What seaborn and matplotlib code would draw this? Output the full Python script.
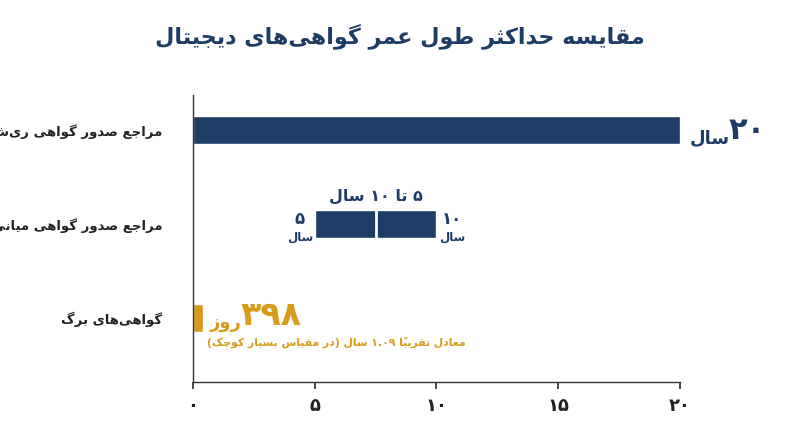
import matplotlib
matplotlib.use("Agg")
import matplotlib.pyplot as plt
import seaborn as sns
import pandas as pd

# ---- minimal Arabic/Persian shaping + visual ordering ----
FORMS = {
 'ا':('\uFE8D','\uFE8E',None,None),'ب':('\uFE8F','\uFE90','\uFE91','\uFE92'),
 'ت':('\uFE95','\uFE96','\uFE97','\uFE98'),'ث':('\uFE99','\uFE9A','\uFE9B','\uFE9C'),
 'ج':('\uFE9D','\uFE9E','\uFE9F','\uFEA0'),'ح':('\uFEA1','\uFEA2','\uFEA3','\uFEA4'),
 'د':('\uFEA9','\uFEAA',None,None),'ر':('\uFEAD','\uFEAE',None,None),
 'ز':('\uFEAF','\uFEB0',None,None),'س':('\uFEB1','\uFEB2','\uFEB3','\uFEB4'),
 'ص':('\uFEB9','\uFEBA','\uFEBB','\uFEBC'),'ط':('\uFEC1','\uFEC2','\uFEC3','\uFEC4'),
 'ع':('\uFEC9','\uFECA','\uFECB','\uFECC'),'ف':('\uFED1','\uFED2','\uFED3','\uFED4'),
 'ق':('\uFED5','\uFED6','\uFED7','\uFED8'),'ل':('\uFEDD','\uFEDE','\uFEDF','\uFEE0'),
 'م':('\uFEE1','\uFEE2','\uFEE3','\uFEE4'),'ن':('\uFEE5','\uFEE6','\uFEE7','\uFEE8'),
 'ه':('\uFEE9','\uFEEA','\uFEEB','\uFEEC'),'و':('\uFEED','\uFEEE',None,None),
 'پ':('\uFB56','\uFB57','\uFB58','\uFB59'),'چ':('\uFB7A','\uFB7B','\uFB7C','\uFB7D'),
 'ک':('\uFB8E','\uFB8F','\uFB90','\uFB91'),'گ':('\uFB92','\uFB93','\uFB94','\uFB95'),
 'ی':('\uFBFC','\uFBFD','\uFBFE','\uFBFF'),
}
MARKS = {'\u064B'}
MIRROR = {'(': ')', ')': '('}

def fa(s):
    chars = list(s)
    n = len(chars)
    def prev_letter(i):
        j = i - 1
        while j >= 0 and chars[j] in MARKS: j -= 1
        return chars[j] if j >= 0 else None
    def next_letter(i):
        j = i + 1
        while j < n and chars[j] in MARKS: j += 1
        return chars[j] if j < n else None
    units = []
    for i, c in enumerate(chars):
        if c in MARKS:
            if units: units[-1] = units[-1] + c
            continue
        if c == '\u200c':
            continue
        if c in FORMS:
            iso, fin, ini, med = FORMS[c]
            p = prev_letter(i); q = next_letter(i)
            jp = p is not None and p in FORMS and FORMS[p][2] is not None
            jn = q is not None and q in FORMS and ini is not None
            if jp and jn: g = med
            elif jp: g = fin
            elif jn: g = ini
            else: g = iso
            units.append(g)
        else:
            units.append(MIRROR.get(c, c))
    out, buf = [], []
    def isnum(u): return u[0] in '۰۱۲۳۴۵۶۷۸۹0123456789.'
    for u in units:
        if isnum(u): buf.append(u)
        else:
            if buf: out.append(''.join(buf)); buf = []
            out.append(u)
    if buf: out.append(''.join(buf))
    return ''.join(reversed(out))

# ---- data ----
categories = ["مراجع صدور گواهی ریشه", "مراجع صدور گواهی میانی", "گواهی‌های برگ"]
start_years = [0, 5, 0]
end_years = [20, 10, 0.4]          # leaf bar drawn "at very small scale"
bar_colors = ["#1d3d66", "#1d3d66", "#d89b1c"]
tick_values = [0, 5, 10, 15, 20]
tick_labels = ["۰", "۵", "۱۰", "۱۵", "۲۰"]

NAVY = "#1d3d66"; GOLD = "#d89b1c"
sns.set_theme(style="white")
plt.rcParams['font.family'] = ['DejaVu Sans']

fig = plt.figure(figsize=(8, 4.47), dpi=100)
ax = fig.add_axes([0.241, 0.145, 0.609, 0.642])
df = pd.DataFrame({"cat": categories, "end": end_years})
sns.barplot(data=df, x="end", y="cat", hue="cat", palette=bar_colors,
            legend=False, width=0.3, ax=ax, saturation=1)
for p, s, e in zip(ax.patches, start_years, end_years):
    p.set_x(s); p.set_width(e - s)
mid = (start_years[1] + end_years[1]) / 2
ax.plot([mid, mid], [1 - 0.15, 1 + 0.15], color="white", lw=2)

ax.set_xlim(0, 20)
ax.set_ylim(2.68, -0.37)
ax.set_xticks(tick_values)
ax.set_xticklabels(tick_labels, fontsize=13, fontweight="bold", color="#222")
ax.set_yticks([0, 1, 2])
ax.set_yticklabels([fa(c) for c in categories], fontsize=9.5, fontweight="bold", color="#222")
ax.tick_params(axis="y", length=0, pad=22)
ax.tick_params(axis="x", length=5, color="#333", pad=6, bottom=True)
ax.set_xlabel(""); ax.set_ylabel("")
for sp in ["top", "right"]:
    ax.spines[sp].set_visible(False)
for sp in ["left", "bottom"]:
    ax.spines[sp].set_color("#333"); ax.spines[sp].set_linewidth(1)

# annotations
ax.text(end_years[0] + 0.4, 0.08, fa("سال"), fontsize=13, fontweight="bold", color=NAVY, va="center", ha="left")
ax.text(end_years[0] + 2.0, 0.0, "۲۰", fontsize=22, fontweight="bold", color=NAVY, va="center", ha="left")
ax.text(mid, 1 - 0.3, fa("۵ تا ۱۰ سال"), fontsize=11.5, fontweight="bold", color=NAVY, ha="center", va="center")
ax.text(start_years[1] - 0.6, 1 - 0.05, "۵", fontsize=12, fontweight="bold", color=NAVY, ha="center", va="center")
ax.text(start_years[1] - 0.6, 1 + 0.14, fa("سال"), fontsize=8.5, fontweight="bold", color=NAVY, ha="center", va="center")
ax.text(end_years[1] + 0.65, 1 - 0.05, "۱۰", fontsize=12, fontweight="bold", color=NAVY, ha="center", va="center")
ax.text(end_years[1] + 0.65, 1 + 0.14, fa("سال"), fontsize=8.5, fontweight="bold", color=NAVY, ha="center", va="center")
ax.text(0.7, 2.05, fa("روز"), fontsize=13, fontweight="bold", color=GOLD, ha="left", va="center")
ax.text(1.95, 1.97, "۳۹۸", fontsize=24, fontweight="bold", color=GOLD, ha="left", va="center")
ax.text(0.6, 2.25, fa("معادل تقریباً ۱.۰۹ سال (در مقیاس بسیار کوچک)"), fontsize=7.8,
        fontweight="bold", color=GOLD, ha="left", va="center")

fig.text(0.5, 0.92, fa("مقایسه حداکثر طول عمر گواهی‌های دیجیتال"), fontsize=16,
         fontweight="bold", color=NAVY, ha="center", va="center")
fig.savefig("out.png", dpi=100, facecolor="white")
